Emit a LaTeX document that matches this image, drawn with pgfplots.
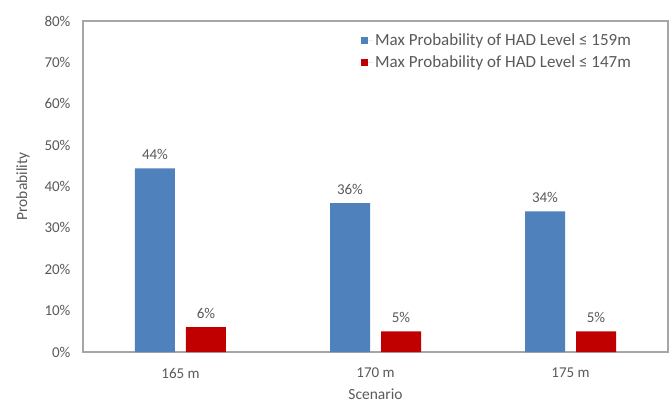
\documentclass[border=0pt]{standalone}
\usepackage{pgfplots}
\pgfplotsset{compat=1.18}
\usepackage{fontspec}
\setmainfont{Carlito}
\definecolor{barblue}{HTML}{4F81BD}
\definecolor{barred}{HTML}{C00000}
\definecolor{txt}{HTML}{595959}
\definecolor{axisgray}{HTML}{A6A6A6}
\begin{document}
\begin{tikzpicture}
\useasboundingbox (-83pt,-53pt) rectangle (587pt,352pt);
\begin{axis}[
  at={(0,0)}, anchor=south west,
  scale only axis,
  width=585pt, height=331pt,
  xmin=-0.5, xmax=2.5,
  ymin=0, ymax=80,
  ybar=11pt, bar width=40pt,
  xtick={0,1,2},
  xticklabels={165 m,170 m,175 m},
  ytick={0,10,...,80},
  yticklabel={\pgfmathprintnumber{\tick}\%},
  /pgf/number format/assume math mode=true,
  major tick length=0pt,
  axis line style={axisgray, line width=1.2pt},
  every tick label/.append style={font=\fontsize{15}{17}\selectfont, text=txt},
  xticklabel style={anchor=center, yshift=-21pt},
  yticklabel style={anchor=east, xshift=-9pt},
  xlabel={Scenario},
  ylabel={Probability},
  every axis x label/.style={at={(axis description cs:0.5,-0.127)}, anchor=center},
  every axis y label/.style={at={(axis description cs:-0.1026,0.5)}, anchor=center, rotate=90},
  label style={font=\fontsize{15.5}{17}\selectfont, text=txt},
  point meta=explicit,
  nodes near coords={\pgfmathprintnumber{\pgfplotspointmeta}\%},
  nodes near coords style={font=\fontsize{15}{17}\selectfont, text=txt, yshift=5pt},
  legend style={at={(0.47,0.975)}, anchor=north west, draw=none, fill=none,
    font=\fontsize{17}{19}\selectfont, text=txt, row sep=5pt,
    legend cell align=left},
  legend image code/.code={\fill[#1] (0pt,-3.5pt) rectangle (7pt,3.5pt); \path (0pt,0pt) -- (12pt,0pt);},
]
\addplot[fill=barblue, draw=none] coordinates {(0,44.4) [44] (1,36) [36] (2,34) [34]};
\addplot[fill=barred, draw=none] coordinates {(0,6) [6] (1,5) [5] (2,5) [5]};
\legend{Max Probability of HAD Level ≤ 159m, Max Probability of HAD Level ≤ 147m}
\end{axis}
\end{tikzpicture}
\end{document}
